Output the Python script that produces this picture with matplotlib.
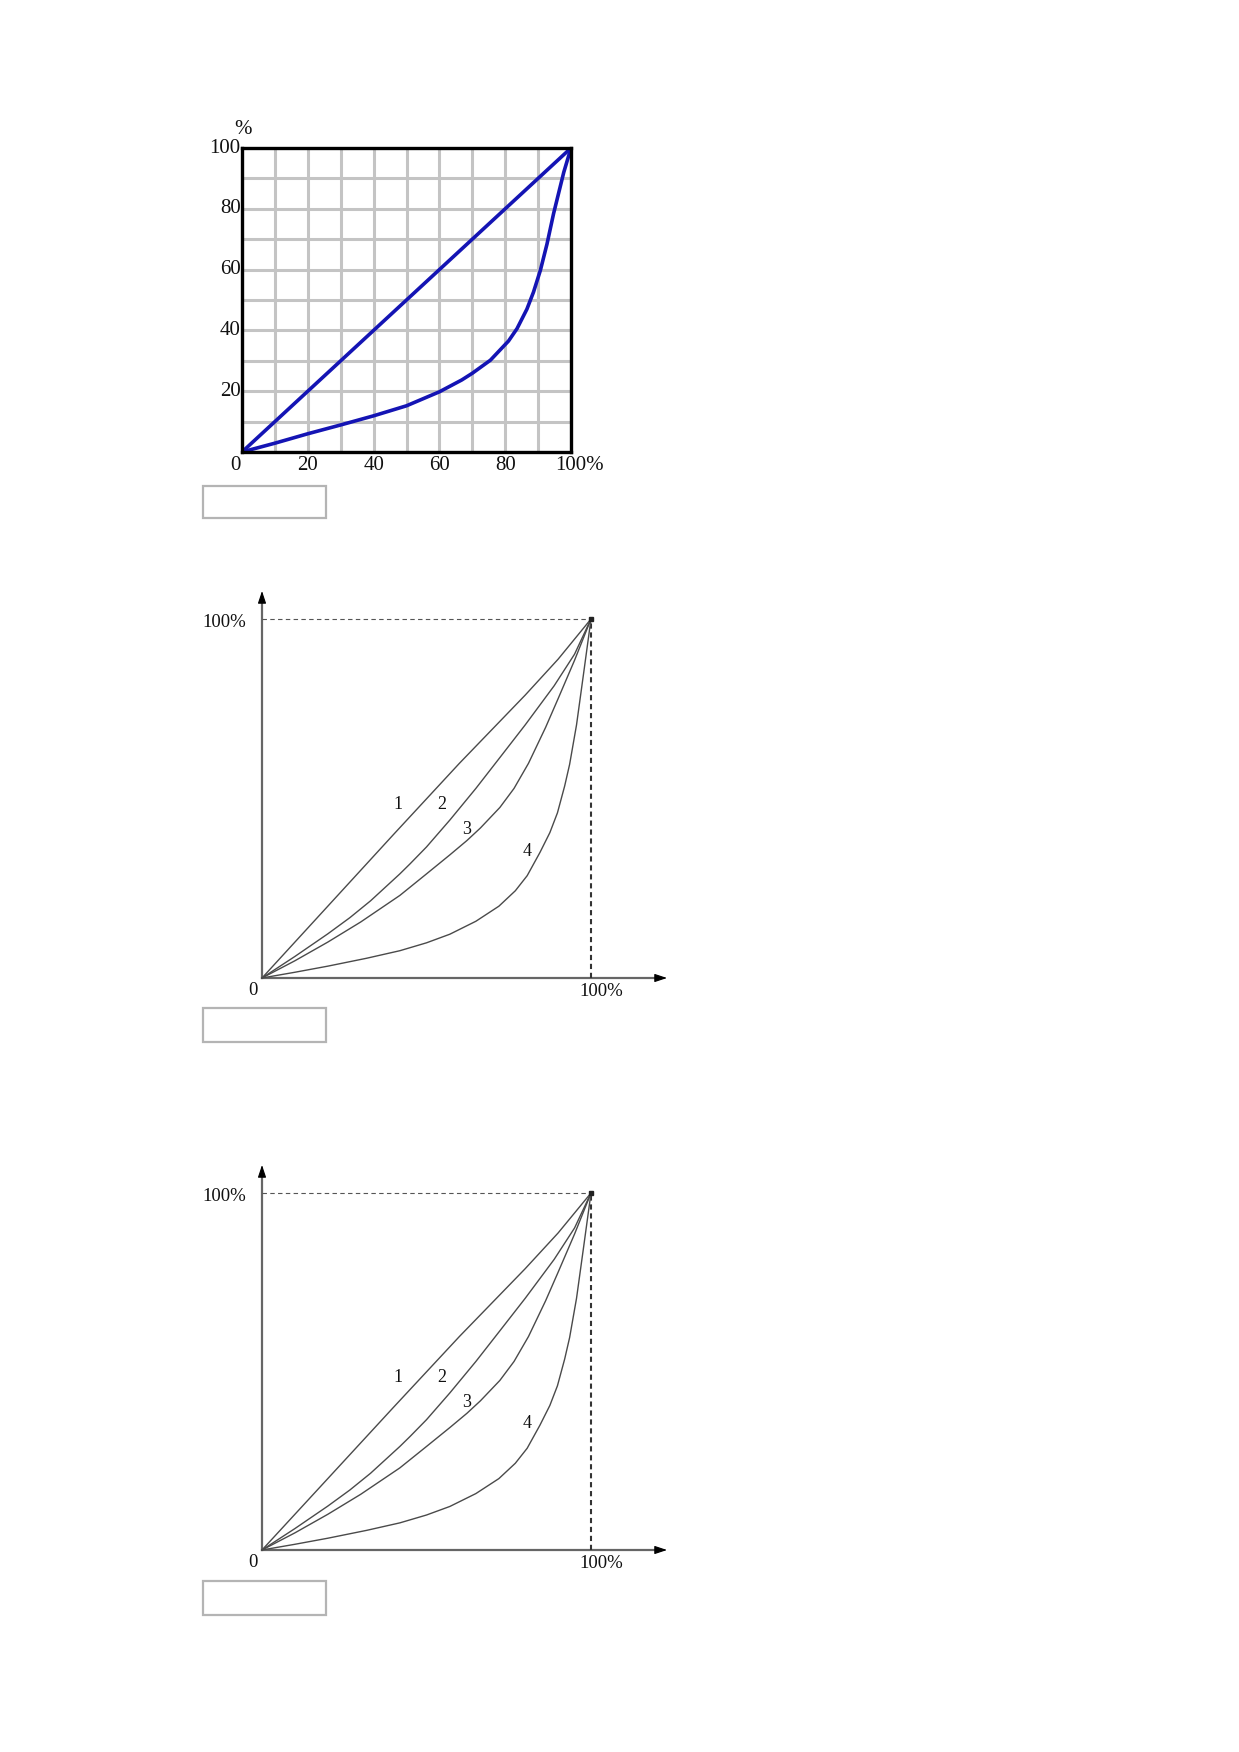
import matplotlib
matplotlib.use('Agg')
import matplotlib.pyplot as plt
from matplotlib.patches import Rectangle

W, H = 1239, 1752
SERIF = ['Liberation Serif', 'DejaVu Serif']

# ---- chart 1: Lorenz curve on a grid ----
grid_ticks = list(range(0, 101, 10))
x_ticks_1 = [20, 40, 60, 80]
y_ticks_1 = [20, 40, 60, 80, 100]
equality_x = [0, 100]
equality_y = [0, 100]
lorenz_x = [0, 10, 20, 30, 40, 50, 60, 66.8, 70, 75.5, 81, 83.6, 86.6, 88.6, 90.7, 92.7, 94.7, 97.8, 100]
lorenz_y = [0, 2.9, 6.0, 8.9, 11.9, 15.2, 19.8, 23.7, 25.9, 30.2, 36.5, 40.6, 47.0, 52.6, 59.8, 68.4, 78.4, 92.0, 100]

# ---- charts 2 and 3: four Lorenz curves ----
curve1_x = [0, 20, 40, 60, 70, 80, 90, 100]
curve1_y = [0, 20, 40, 59.8, 69.3, 78.8, 88.8, 100]
curve2_x = [0, 10, 20, 26.7, 33, 41.9, 45, 50, 57.1, 65, 72.3, 80, 88.8, 95, 100]
curve2_y = [0, 6.0, 12.3, 16.8, 21.5, 29.0, 31.8, 36.5, 44.0, 52.8, 61.4, 70.5, 81.4, 90.2, 100]
curve3_x = [0, 10, 20, 30, 41.9, 50, 57.1, 62.3, 66.4, 72.3, 76.6, 81, 86.2, 90, 95, 100]
curve3_y = [0, 4.8, 10.0, 15.6, 23.0, 29.0, 34.3, 38.3, 41.8, 47.5, 52.8, 59.8, 69.8, 77.8, 88.5, 100]
curve4_x = [0, 10, 20, 31.8, 41.9, 50, 57.1, 65, 72, 77, 80.6, 84.5, 87.5, 89.8, 92, 93.5, 95.6, 97.7, 100]
curve4_y = [0, 1.6, 3.3, 5.5, 7.6, 9.8, 12.2, 15.8, 20.0, 24.3, 28.5, 35.0, 40.5, 46.0, 53.5, 59.5, 70.5, 84.5, 100]
curve_names = ['1', '2', '3', '4']


def px_axes(fig, left, top, right, bottom):
    return fig.add_axes([left / W, 1 - bottom / H, (right - left) / W, (bottom - top) / H])


def input_box(fig, left, top, right, bottom):
    fig.add_artist(Rectangle((left / W, 1 - bottom / H), (right - left) / W, (bottom - top) / H,
                             transform=fig.transFigure, fill=False,
                             edgecolor='#b4b4b4', linewidth=1.6))


fig = plt.figure(figsize=(W / 100, H / 100), dpi=100)
txt = dict(family=SERIF, color='#111111')

# chart 1
ax = px_axes(fig, 242, 148, 571, 452)
ax.set_xlim(0, 100)
ax.set_ylim(0, 100)
ax.set_xticks(grid_ticks)
ax.set_yticks(grid_ticks)
ax.tick_params(length=0, labelbottom=False, labelleft=False)
ax.grid(True, color='#c4c4c4', linewidth=2.2)
for s in ax.spines.values():
    s.set_linewidth(2.4)
    s.set_color('black')
    s.set_zorder(5)
blue = '#1414b4'
ax.plot(equality_x, equality_y, color=blue, lw=2.6, solid_capstyle='round', zorder=4)
ax.plot(lorenz_x, lorenz_y, color=blue, lw=2.6, solid_capstyle='round',
        solid_joinstyle='round', zorder=4)
for v in y_ticks_1:
    ax.text(-0.4, v, str(v), ha='right', va='center', fontsize=15, **txt)
ax.text(0.3, 106, '%', ha='center', va='center', fontsize=15, **txt)
ax.text(-2.1, -4.5, '0', ha='center', va='center', fontsize=15, **txt)
for v in x_ticks_1:
    ax.text(v, -4.5, str(v), ha='center', va='center', fontsize=15, **txt)
ax.text(95.2, -4.5, '100%', ha='left', va='center', fontsize=15, **txt)
input_box(fig, 203, 486, 326, 518)

# charts 2 and 3 (same drawing)
curves = [(curve1_x, curve1_y), (curve2_x, curve2_y), (curve3_x, curve3_y), (curve4_x, curve4_y)]
label_pos = [(41.4, 48.3), (54.6, 48.3), (62.3, 41.3), (80.6, 35.3)]

for top, bottom, box_top in [(619, 978, 1008), (1193, 1550, 1581)]:
    ax = px_axes(fig, 262, top, 591, bottom)
    ax.set_xlim(0, 100)
    ax.set_ylim(0, 100)
    ax.axis('off')
    ky = 100 / (bottom - top)
    kx = 100 / (591 - 262)
    y_end = (bottom - (top - 28)) * ky
    x_end = (667 - 262) * kx
    ax.plot([0, 0], [0, y_end - 2], color='#666666', lw=1.6, clip_on=False)
    ax.plot([0, x_end - 2], [0, 0], color='#666666', lw=1.6, clip_on=False)
    head = dict(arrowstyle='-|>,head_length=0.75,head_width=0.25', color='black',
                lw=0.8, shrinkA=0, shrinkB=0)
    ax.annotate('', xy=(0, y_end), xytext=(0, y_end - 3), arrowprops=head, annotation_clip=False)
    ax.annotate('', xy=(x_end, 0), xytext=(x_end - 3, 0), arrowprops=head, annotation_clip=False)
    ax.plot([0, 100], [100, 100], color='#555555', lw=0.8, dashes=(4, 3), clip_on=False)
    ax.plot([100, 100], [0, 100], color='#333333', lw=1.5, dashes=(2.5, 1.8), clip_on=False)
    for cx, cy in curves:
        ax.plot(cx, cy, color='#4a4a4a', lw=1.0, solid_joinstyle='round', clip_on=False)
    ax.plot([100], [100], marker='s', ms=2.5, color='#222222', clip_on=False)
    for name, (lx, ly) in zip(curve_names, label_pos):
        ax.text(lx, ly, name, ha='center', va='center', fontsize=13, **txt)
    ax.text(-4.9, 99, '100%', ha='right', va='center', fontsize=13.5, **txt)
    ax.text(-2.7, -3.6, '0', ha='center', va='center', fontsize=13.5, **txt)
    ax.text(103, -3.8, '100%', ha='center', va='center', fontsize=13.5, **txt)
    input_box(fig, 203, box_top, 326, box_top + 34)

fig.savefig('out.png', dpi=100, facecolor='white')
